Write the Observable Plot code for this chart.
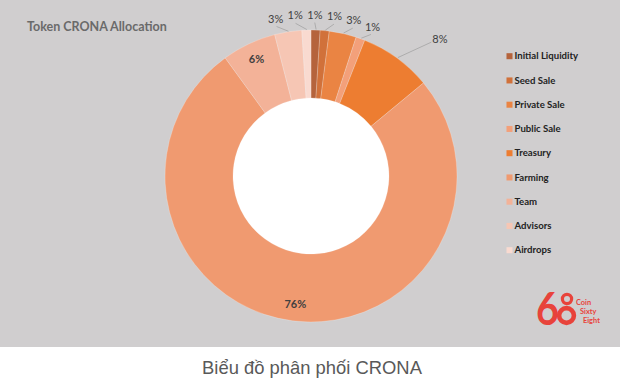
<!DOCTYPE html>
<html>
<head>
<meta charset="utf-8">
<script src="https://cdn.jsdelivr.net/npm/d3@7"></script>
<script src="https://cdn.jsdelivr.net/npm/@observablehq/plot@0.6"></script>
<style>
  body { margin: 0; background: #fff; }
  #panel { position: relative; width: 620px; height: 347px; background: #d0cecf; overflow: hidden; }
  #title { position: absolute; left: 27px; top: 19px; font: bold 12.5px Lato, sans-serif; color: #6a6a6a; }
  #logo { position: absolute; left: 0; top: 0; }
  #caption { width: 624px; text-align: center; font: 18.4px "Liberation Sans", Arial, sans-serif; color: #595959; margin-top: 10px; }
  #chart svg { display: block; }
</style>
</head>
<body>
<div id="panel">
  <div id="chart"></div>
  <div id="title">Token CRONA Allocation</div>
  <svg id="logo" width="620" height="347">
    <text x="0" y="0" transform="translate(536,325) scale(0.88,1)" font-family="Lato" font-weight="bold" font-size="45" fill="#e8433b">6</text>
    <circle cx="567" cy="299" r="4.6" fill="none" stroke="#e8433b" stroke-width="3.2"></circle>
    <circle cx="566.5" cy="315.5" r="7.4" fill="none" stroke="#e8433b" stroke-width="4.6"></circle>
    <text x="576" y="305" font-family="Lato" font-size="7.4" font-weight="bold" fill="#e8433b">Coin</text>
    <text x="580" y="313.8" font-family="Lato" font-size="7.4" font-weight="bold" fill="#e8433b">Sixty</text>
    <text x="583" y="322.6" font-family="Lato" font-size="7.4" font-weight="bold" fill="#e8433b">Eight</text>
  </svg>
</div>
<div id="caption">Biểu đồ phân phối CRONA</div>
<script>
// ---- data ----
const categories = ["Initial Liquidity", "Seed Sale", "Private Sale", "Public Sale", "Treasury", "Farming", "Team", "Advisors", "Airdrops"];
const shares = [1, 1, 3, 1, 8, 76, 6, 3, 1];
const labels = ["1%", "1%", "3%", "1%", "8%", "76%", "6%", "3%", "1%"];
const colors = ["#b5633c", "#d1713a", "#ea8443", "#f3a07a", "#ed7d31", "#f09a70", "#f3b298", "#f6c6b4", "#f9dad0"];
const labelInside = ["Farming", "Team"];

// ---- layout ----
const W = 620, H = 347;
const cx = 311, cy = 176, R = 146, r0 = 78;
const polar = (a, rad) => [cx + rad * Math.sin(a), cy - rad * Math.cos(a)];

const data = categories.map((c, i) => ({category: c, share: shares[i], label: labels[i]}));
const arcs = d3.pie().sort(null).value(d => d.share)(data);

// label angles: spread outside labels apart
const outside = arcs.filter(a => !labelInside.includes(a.data.category)).map(a => {
  let mid = (a.startAngle + a.endAngle) / 2;
  if (mid > Math.PI) mid -= 2 * Math.PI;
  return {a, mid, ang: mid};
}).sort((p, q) => p.mid - q.mid);
const minGap = 0.125;
for (let it = 0; it < 200; it++) {
  for (let i = 1; i < outside.length; i++) {
    const gap = outside[i].ang - outside[i - 1].ang;
    if (gap < minGap) {
      const d = (minGap - gap) / 2;
      outside[i].ang += d; outside[i - 1].ang -= d;
    }
  }
}
const topLabels = [], sideLabels = [], leaders = [];
for (const o of outside) {
  const side = Math.abs(Math.sin(o.ang)) > 0.45;
  const p0 = polar(o.mid, R + 1);
  if (side) {
    const p1 = polar(o.ang + 0.1, R + 34);
    leaders.push({x1: p0[0], y1: p0[1], x2: p1[0], y2: p1[1]});
    sideLabels.push({x: p1[0] + 1, y: p1[1] - 3, label: o.a.data.label});
  } else {
    const p1 = polar(o.ang, R + 8);
    const p2 = polar(o.ang, R + 12);
    leaders.push({x1: p0[0], y1: p0[1], x2: p1[0], y2: p1[1]});
    topLabels.push({x: p2[0], y: p2[1], label: o.a.data.label});
  }
}
const insideLabels = arcs.filter(a => labelInside.includes(a.data.category)).map(a => {
  const p = polar((a.startAngle + a.endAngle) / 2, 129);
  return {x: p[0], y: p[1], label: a.data.label};
});

const legendData = categories.map((c, i) => ({category: c, x: 509, y: 55.7 + i * 24.25}));

const arcGen = d3.arc().innerRadius(r0).outerRadius(R);
const donut = (index, scales) => {
  const color = scales.color || d3.scaleOrdinal(categories, colors);
  const g = d3.create("svg:g").attr("transform", `translate(${cx},${cy})`);
  g.append("circle").attr("r", r0 + 0.5).attr("fill", "#ffffff");
  g.selectAll("path").data(arcs).join("path")
    .attr("d", arcGen)
    .attr("fill", d => color(d.data.category))
    .attr("stroke", "#ffffff").attr("stroke-opacity", 0.35).attr("stroke-width", 0.6);
  return g.node();
};

const chart = Plot.plot({
  width: W, height: H, margin: 0,
  style: {background: "transparent", overflow: "visible"},
  x: {domain: [0, W], range: [0, W], axis: null},
  y: {domain: [0, H], range: [0, H], axis: null},
  color: {domain: categories, range: colors},
  marks: [
    donut,
    Plot.link(leaders, {x1: "x1", y1: "y1", x2: "x2", y2: "y2", stroke: "#a3a3a3", strokeWidth: 0.8}),
    Plot.text(topLabels, {x: "x", y: "y", text: "label", textAnchor: "middle", lineAnchor: "bottom", fill: "#404040", fontSize: 11, fontFamily: "Lato"}),
    Plot.text(sideLabels, {x: "x", y: "y", text: "label", textAnchor: "start", lineAnchor: "middle", fill: "#404040", fontSize: 11, fontFamily: "Lato"}),
    Plot.text(insideLabels, {x: "x", y: "y", text: "label", textAnchor: "middle", lineAnchor: "middle", fill: "#404040", fontSize: 11, fontWeight: "bold", fontFamily: "Lato"}),
    Plot.dot(legendData, {x: "x", y: "y", fill: "category", symbol: "square", r: 3.4}),
    Plot.text(legendData, {x: d => d.x + 5, y: "y", text: "category", textAnchor: "start", fill: "#222", fontSize: 9.6, fontWeight: "bold", fontFamily: "Lato"})
  ]
});
document.getElementById("chart").appendChild(chart);
</script>
</body>
</html>
